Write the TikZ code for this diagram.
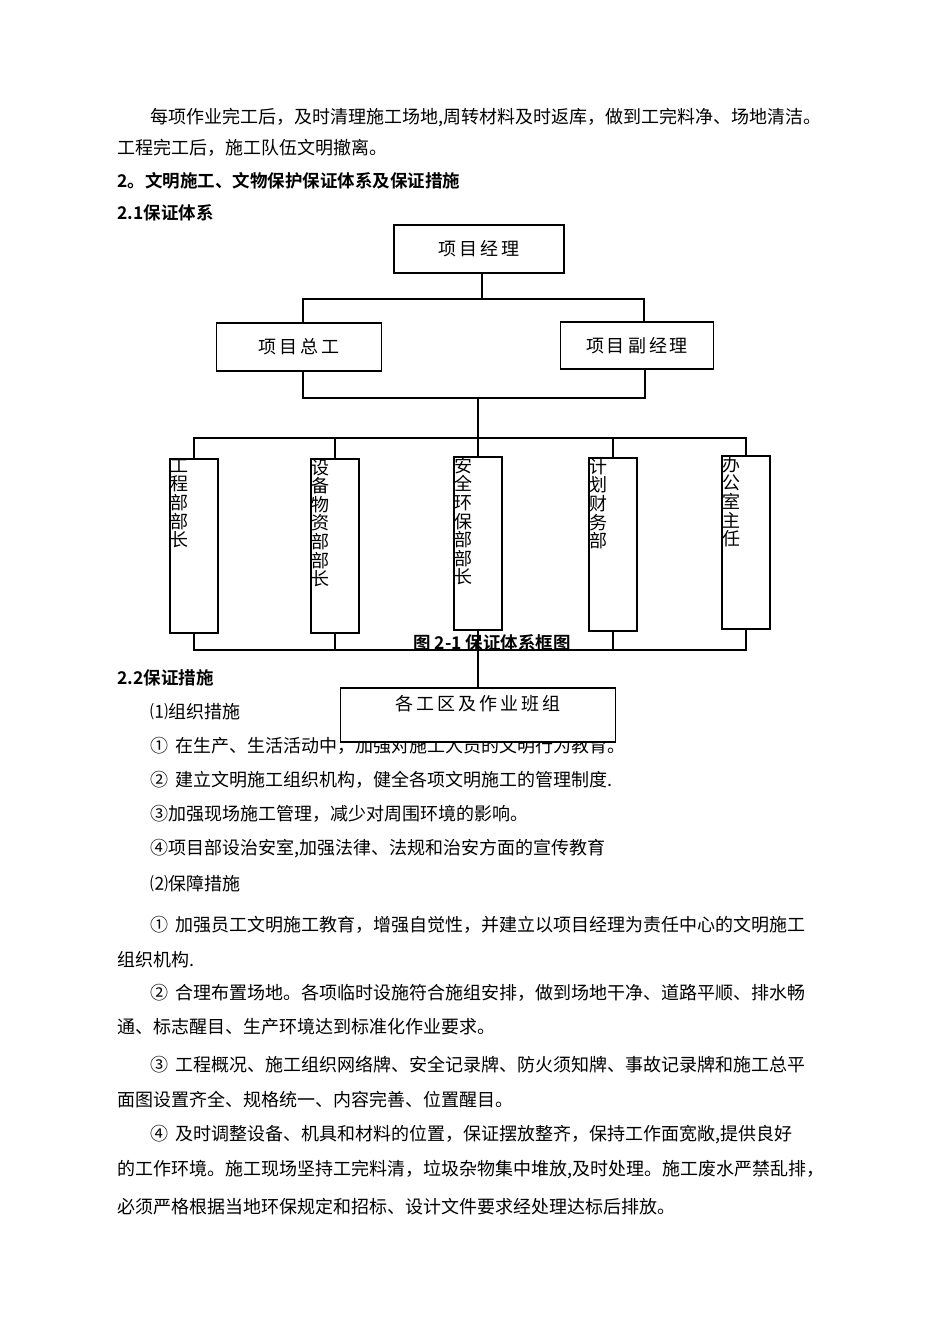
\documentclass[tikz,border=0pt]{standalone}
\usepackage{fontspec}
\setmainfont{Noto Sans CJK SC}
\newfontfamily\cjkb{Noto Sans CJK SC Bold}
\begin{document}
\begin{tikzpicture}[x=1pt,y=-1pt,
  every node/.style={font=\fontsize{18}{20}\selectfont},
  txt/.style={anchor=west,inner sep=0pt},
  hd/.style={anchor=west,inner sep=0pt,font=\cjkb\fontsize{17.5}{20}\selectfont},
  box/.style={draw,line width=1.6pt,fill=white,inner sep=0pt},
  ln/.style={line width=1.6pt},
  vt/.style={anchor=north west,inner sep=1pt,align=left,font=\fontsize{18}{18.6}\selectfont}]
\useasboundingbox (0,0) rectangle (950,1344);
\node[txt] (t1) at (150,118) {每项作业完工后，及时清理施工场地,周转材料及时返库，做到工完料净、场地清洁。};
\node[txt] (t2) at (117,148) {工程完工后，施工队伍文明撤离。};
\node[hd] (h1) at (117,181) {2。文明施工、文物保护保证体系及保证措施};
\node[hd] (h2) at (117,213) {2.1保证体系};
\node[hd] (h3) at (117,678) {2.2保证措施};
\node[txt] (p1) at (150,712) {⑴组织措施};
\node[txt] (p2) at (150,746) {①\, 在生产、生活活动中，加强对施工人员的文明行为教育。};
\node[txt] (p3) at (150,780) {②\, 建立文明施工组织机构，健全各项文明施工的管理制度.};
\node[txt] (p4) at (150,814) {③加强现场施工管理，减少对周围环境的影响。};
\node[txt] (p5) at (150,849) {④项目部设治安室,加强法律、法规和治安方面的宣传教育};
\node[txt] (p6) at (150,884) {⑵保障措施};
\node[txt] (p7) at (150,925) {①\, 加强员工文明施工教育，增强自觉性，并建立以项目经理为责任中心的文明施工};
\node[txt] (p8) at (117,960) {组织机构.};
\node[txt] (p9) at (150,993) {②\, 合理布置场地。各项临时设施符合施组安排，做到场地干净、道路平顺、排水畅};
\node[txt] (p10) at (117,1027) {通、标志醒目、生产环境达到标准化作业要求。};
\node[txt] (p11) at (150,1065) {③\, 工程概况、施工组织网络牌、安全记录牌、防火须知牌、事故记录牌和施工总平};
\node[txt] (p12) at (117,1100) {面图设置齐全、规格统一、内容完善、位置醒目。};
\node[txt] (p13) at (150,1135) {④\, 及时调整设备、机具和材料的位置，保证摆放整齐，保持工作面宽敞,提供良好};
\node[txt] (p14) at (117,1170) {的工作环境。施工现场坚持工完料清，垃圾杂物集中堆放,及时处理。施工废水严禁乱排，};
\node[txt] (p15) at (117,1207) {必须严格根据当地环保规定和招标、设计文件要求经处理达标后排放。};
\node[hd,anchor=center] (cap) at (492,643) {图 2-1 保证体系框图};
% boxes
\node[box,minimum width=170,minimum height=48] (pm) at (479,249) {项\,目\,经\,理};
\node[box,minimum width=165,minimum height=48] (ce) at (299,347) {项\,目\,总\,工};
\node[box,minimum width=153,minimum height=47] (dm) at (637,345.5) {项\,目\,副\,经\,理};
\foreach \n/\x/\t/\b in {a/194/458/632,b/335/458/632,c/478/456/629,d/613/457/630,e/746/455/628}{
  \node[box,minimum width=48,minimum height=\b-\t,anchor=north] (\n) at (\x,\t) {};
}
\node[vt] (ta) at (a.north west) {工\\程\\部\\部\\长};
\node[vt] (tb) at (b.north west) {设\\备\\物\\资\\部\\部\\长};
\node[vt] (tc) at (c.north west) {安\\全\\环\\保\\部\\部\\长};
\node[vt] (td) at (d.north west) {计\\划\\财\\务\\部};
\node[vt] (te) at (e.north west) {办\\公\\室\\主\\任};
\coordinate (j1) at (482,299);
\coordinate (j2) at (478,398);
\coordinate (j3) at (478,438);
\coordinate (j4) at (478,650);
\draw[ln] (pm.south -| j1) -- (j1);
\draw[ln] (ce.north -| 303,0) -- (303,299) -- (644,299) -- (dm.north -| 644,0);
\draw[ln] (ce.south -| 303,0) -- (303,398) -- (645,398) -- (dm.south -| 645,0);
\draw[ln] (j2) -- (j3);
\draw[ln] (a.north) -- (a.north |- j3) -- (e.north |- j3) -- (e.north);
\foreach \n in {b,c,d}{\draw[ln] (\n.north) -- (\n.north |- j3);}
\draw[ln] (a.south) -- (a.south |- j4) -- (e.south |- j4) -- (e.south);
\foreach \n in {b,c,d}{\draw[ln] (\n.south) -- (\n.south |- j4);}
\node[box,minimum width=275,minimum height=54,anchor=north] (wk) at (478,687) {};
\node[inner sep=0pt] (wkt) at (478,704) {各\,工\,区\,及\,作\,业\,班\,组};
\draw[ln] (j4) -- (wk.north -| j4);
\end{tikzpicture}
\end{document}
